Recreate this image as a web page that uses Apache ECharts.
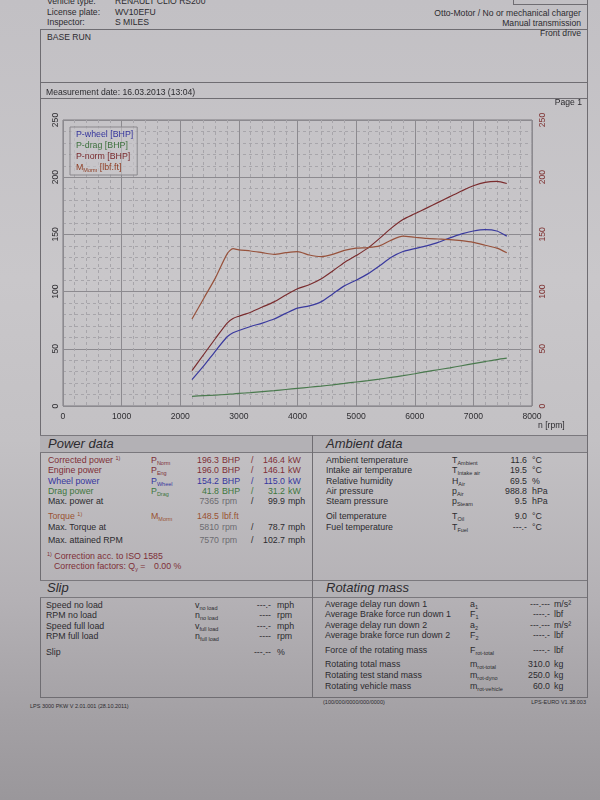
<!DOCTYPE html>
<html><head><meta charset="utf-8">
<script src="https://cdn.jsdelivr.net/npm/echarts@6/dist/echarts.min.js"></script>
<style>
html,body{margin:0;padding:0;}
body{width:600px;height:800px;position:relative;overflow:hidden;font-family:"Liberation Sans",Arial,sans-serif;color:#2c2b2f;
background:linear-gradient(180deg,#c2c0c4 0%,#c9c7ca 35%,#c3c1c4 55%,#b4b1b5 75%,#a3a0a4 90%,#9a979b 100%);}
.t{position:absolute;white-space:nowrap;font-size:8.8px;line-height:10px;}
sub{font-size:5.5px;vertical-align:-2px;line-height:0;}
sup{font-size:5.5px;vertical-align:3px;line-height:0;}
.hl{position:absolute;height:0;border-top:1px solid #6f6d72;}
.vl{position:absolute;width:0;border-left:1px solid #6f6d72;}
.band{position:absolute;background:#b3b1b5;border-top:1px solid #7a787d;border-bottom:1px solid #7a787d;}
#chart{position:absolute;left:0;top:105px;width:600px;height:330px;}
</style>
</head><body>
<div class="hl" style="left:513px;top:4px;width:74px"></div>
<div class="vl" style="left:513px;top:0;height:4px"></div>
<div class="hl" style="left:40px;top:29px;width:548px"></div>
<div class="hl" style="left:40px;top:82px;width:548px"></div>
<div class="hl" style="left:40px;top:98px;width:548px"></div>
<div class="vl" style="left:40px;top:29px;height:668px"></div>
<div class="vl" style="left:587px;top:0;height:697px"></div>
<div class="band" style="left:40px;top:435px;width:272px;height:16px"></div>
<div class="band" style="left:313px;top:435px;width:274px;height:16px"></div>
<div class="band" style="left:40px;top:580px;width:272px;height:16px"></div>
<div class="band" style="left:313px;top:580px;width:274px;height:16px"></div>
<div class="vl" style="left:312px;top:435px;height:262px"></div>
<div class="hl" style="left:40px;top:697px;width:548px"></div>
<div id="chart"></div>
<script>
// ---- chart data ----
const rpm    = [2200,2400,2600,2800,2900,3000,3200,3400,3600,3800,4000,4200,4400,4600,4800,5000,5200,5400,5600,5800,6000,6200,6400,6600,6800,7000,7200,7400,7570];
const pWheel = [23,35,48,60.5,64,66,69.5,72.5,76,81,85.5,87.5,91,98,105,110,115.5,122.5,130,135,137.5,140,143,147,150.5,153,154.2,153,148.5];
const pDrag  = [8.5,9,9.5,10.2,10.5,11,11.7,12.5,13.4,14.4,15.4,16.4,17.4,18.5,19.7,21,22.2,23.5,25,26.5,28.2,30,31.7,33.4,35.2,37,38.8,40.6,41.8];
const pNorm  = [31,45,59,72.5,76.5,78.5,82,86.5,91,97,102.5,106,111,118,125.5,131.5,138,146.5,155.5,163,168,173,178,183,188,192.5,195.5,196.3,194.5];
const mNorm  = [76,94,112,133,137.5,136.5,135.5,134,132.5,134,135,132,130.5,132.5,136,138,138.5,140,145,148.5,147.5,146.5,146,145.5,144.5,143,140.5,138,134];
const seriesNames = ['P-wheel [BHP]','P-drag [BHP]','P-norm [BHP]','M_Morm [lbf.ft]'];
const seriesColors = ['#3a3a9e','#4a7a4e','#7a2c2e','#97523c'];
const legendColors = ['#34349c','#3f723f','#7a2a2e','#8e3c22'];
const rpmMin = 0, rpmMax = 8000, rpmStep = 1000;
const valMin = 0, valMax = 250, valStep = 50;

const FONT = '"Liberation Sans", Arial, sans-serif';
const chart = echarts.init(document.getElementById('chart'), null, {renderer:'canvas'});
const mk = (arr) => rpm.map((r,i)=>[r, arr[i]]);
const allVals = [pWheel, pDrag, pNorm, mNorm];
const minorSplit = {show:true, lineStyle:{color:'#a7a5aa', type:[3,3], width:1}};
chart.setOption({
  animation:false,
  backgroundColor:'transparent',
  grid:{left:63, top:15, width:469, height:286, show:true, borderColor:'#7d7b80', borderWidth:1, backgroundColor:'transparent'},
  legend:{
    orient:'vertical', left:70, top:22, icon:'none', itemWidth:0, itemHeight:0, itemGap:0,
    padding:[2,4,2,1], borderColor:'#8a888d', borderWidth:1, backgroundColor:'rgba(200,198,202,0.6)',
    selectedMode:false,
    formatter: n => n === seriesNames[3] ? '{m|M}{s|Morm}{m| [lbf.ft]}' : n,
    textStyle:{fontSize:8.8, lineHeight:11, fontFamily:FONT,
      rich:{m:{fontSize:8.8, lineHeight:11, color:legendColors[3], fontFamily:FONT},
            s:{fontSize:5.5, lineHeight:6, verticalAlign:'bottom', color:legendColors[3], fontFamily:FONT}}},
    data: seriesNames.map((n,i)=>({name:n, textStyle:{color:legendColors[i]}}))
  },
  xAxis:{type:'value', min:rpmMin, max:rpmMax, interval:rpmStep,
    axisLine:{show:false}, axisTick:{show:false},
    axisLabel:{color:'#2e2d31', fontSize:8.6, margin:6, fontFamily:FONT, formatter: v => String(v)},
    splitLine:{show:true, lineStyle:{color:'#8c8a8f', width:1}},
    minorTick:{show:false, splitNumber:5}, minorSplitLine:minorSplit},
  yAxis:[
    {type:'value', min:valMin, max:valMax, interval:valStep, position:'left',
     axisLine:{show:false}, axisTick:{show:false},
     axisLabel:{color:'#2e2d31', fontSize:8.6, rotate:90, margin:3, fontFamily:FONT, formatter: v => String(v)},
     splitLine:{show:true, lineStyle:{color:'#8c8a8f', width:1}},
     minorTick:{show:false, splitNumber:5}, minorSplitLine:minorSplit},
    {type:'value', min:valMin, max:valMax, interval:valStep, position:'right',
     axisLine:{show:false}, axisTick:{show:false},
     axisLabel:{color:'#7f3333', fontSize:8.6, rotate:90, margin:6, fontFamily:FONT, formatter: v => String(v)},
     splitLine:{show:false}}
  ],
  graphic:[{type:'text', left:538, top:316, style:{text:'n [rpm]', fontSize:8.6, fill:'#2e2d31', fontFamily:FONT}}],
  series: seriesNames.map((n,i)=>({
    name:n, type:'line', yAxisIndex: i===3 ? 1 : 0, data: mk(allVals[i]),
    showSymbol:false, smooth:0.25,
    lineStyle:{color:seriesColors[i], width:1.2}, itemStyle:{color:seriesColors[i]}
  }))
});

// ---- page text ----
function put(x, y, html, color, right, extra) {
  const d = document.createElement('div');
  d.className = 't';
  d.innerHTML = html;
  d.style.top = (y - 5) + 'px';
  if (right) d.style.right = (600 - x) + 'px'; else d.style.left = x + 'px';
  if (color) d.style.color = color;
  if (extra) d.style.cssText += extra;
  document.body.appendChild(d);
}
const RED='#7e2f37', BLUE='#36369e', GREEN='#3e763e', BROWN='#9a5232', GRAY='#6d6c71', INK='#2c2b2f';
const H = 'font-size:8.6px;';
put(47,1,'Vehicle type:',INK,false,H); put(115,1,'RENAULT CLIO RS200',INK,false,H);
put(47,12,'License plate:',INK,false,H); put(115,12,'WV10EFU',INK,false,H);
put(47,22,'Inspector:',INK,false,H); put(115,22,'S MILES',INK,false,H);
put(581,13,'Otto-Motor / No or mechanical charger',INK,true,H);
put(581,23,'Manual transmission',INK,true,H);
put(581,33,'Front drive',INK,true,H);
put(47,37,'BASE RUN',INK,false,H);
put(46,92,'Measurement date: 16.03.2013 (13:04)',INK,false,H);
put(582,102,'Page 1',INK,true,H);

const T = 'font-size:13px;font-style:italic;line-height:14px;margin-top:-2px;';
put(48,444,'Power data',INK,false,T);
put(326,444,'Ambient data',INK,false,T);
put(47,588,'Slip',INK,false,T);
put(326,588,'Rotating mass',INK,false,T);

// Power data
function prow(y, label, sym, v1, u1, v2, u2, c, cv1) {
  put(48,y,label,c);
  if (sym) put(151,y,sym,c);
  put(219,y,v1,cv1||c,true);
  put(222,y,u1,cv1||c);
  if (v2 !== null) { put(251,y,'/',c); put(285,y,v2,c,true); put(288,y,u2,c); }
}
prow(460,'Corrected power <sup>1)</sup>','P<sub>Norm</sub>','196.3','BHP','146.4','kW',RED);
prow(470,'Engine power','P<sub>Eng</sub>','196.0','BHP','146.1','kW',RED);
prow(481,'Wheel power','P<sub>Wheel</sub>','154.2','BHP','115.0','kW',BLUE);
prow(491,'Drag power','P<sub>Drag</sub>','41.8','BHP','31.2','kW',GREEN);
prow(501,'Max. power at',null,'7365','rpm','99.9','mph',INK,GRAY);
prow(516,'Torque <sup>1)</sup>','M<sub>Morm</sub>','148.5','lbf.ft',null,null,BROWN);
prow(527,'Max. Torque at',null,'5810','rpm','78.7','mph',INK,GRAY);
prow(540,'Max. attained RPM',null,'7570','rpm','102.7','mph',INK,GRAY);
put(47,556,'<sup>1)</sup> Correction acc. to ISO 1585',RED);
put(54,566,'Correction factors: Q<sub>y</sub> =',RED);
put(154,566,'0.00 %',RED);

// Ambient data
function arow(y, label, sym, v, u) { put(326,y,label,INK); put(452,y,sym,INK); put(527,y,v,INK,true); put(532,y,u,INK); }
arow(460,'Ambient temperature','T<sub>Ambient</sub>','11.6','°C');
arow(470,'Intake air temperature','T<sub>Intake air</sub>','19.5','°C');
arow(481,'Relative humidity','H<sub>Air</sub>','69.5','%');
arow(491,'Air pressure','p<sub>Air</sub>','988.8','hPa');
arow(501,'Steam pressure','p<sub>Steam</sub>','9.5','hPa');
arow(516,'Oil temperature','T<sub>Oil</sub>','9.0','°C');
arow(527,'Fuel temperature','T<sub>Fuel</sub>','---.-','°C');

// Slip
function srow(y, label, sym, v, u) { put(46,y,label,INK); if (sym) put(195,y,sym,INK); put(271,y,v,INK,true); put(277,y,u,INK); }
srow(605,'Speed no load','v<sub>no load</sub>','---.-','mph');
srow(615,'RPM no load','n<sub>no load</sub>','----','rpm');
srow(626,'Speed full load','v<sub>full load</sub>','---.-','mph');
srow(636,'RPM full load','n<sub>full load</sub>','----','rpm');
srow(652,'Slip',null,'---.--','%');

// Rotating mass
function rrow(y, label, sym, v, u) { put(325,y,label,INK); put(470,y,sym,INK); put(550,y,v,INK,true); put(554,y,u,INK); }
rrow(604,'Average delay run down 1','a<sub>1</sub>','---.---','m/s²');
rrow(614,'Average Brake force run down 1','F<sub>1</sub>','----.-','lbf');
rrow(625,'Average delay run down 2','a<sub>2</sub>','---.---','m/s²');
rrow(635,'Average brake force run down 2','F<sub>2</sub>','----.-','lbf');
rrow(650,'Force of the rotating mass','F<sub>rot-total</sub>','----.-','lbf');
rrow(664,'Rotating total mass','m<sub>rot-total</sub>','310.0','kg');
rrow(675,'Rotating test stand mass','m<sub>rot-dyno</sub>','250.0','kg');
rrow(686,'Rotating vehicle mass','m<sub>rot-vehicle</sub>','60.0','kg');

// Footer
const F = 'font-size:5.5px;line-height:6px;';
put(30,708,'LPS 3000 PKW V 2.01.001 (28.10.2011)',INK,false,F);
put(323,704,'(100/000/0000/000/0000)',INK,false,F);
put(586,704,'LPS-EURO V1.38.003',INK,true,F);
</script>
</body></html>
